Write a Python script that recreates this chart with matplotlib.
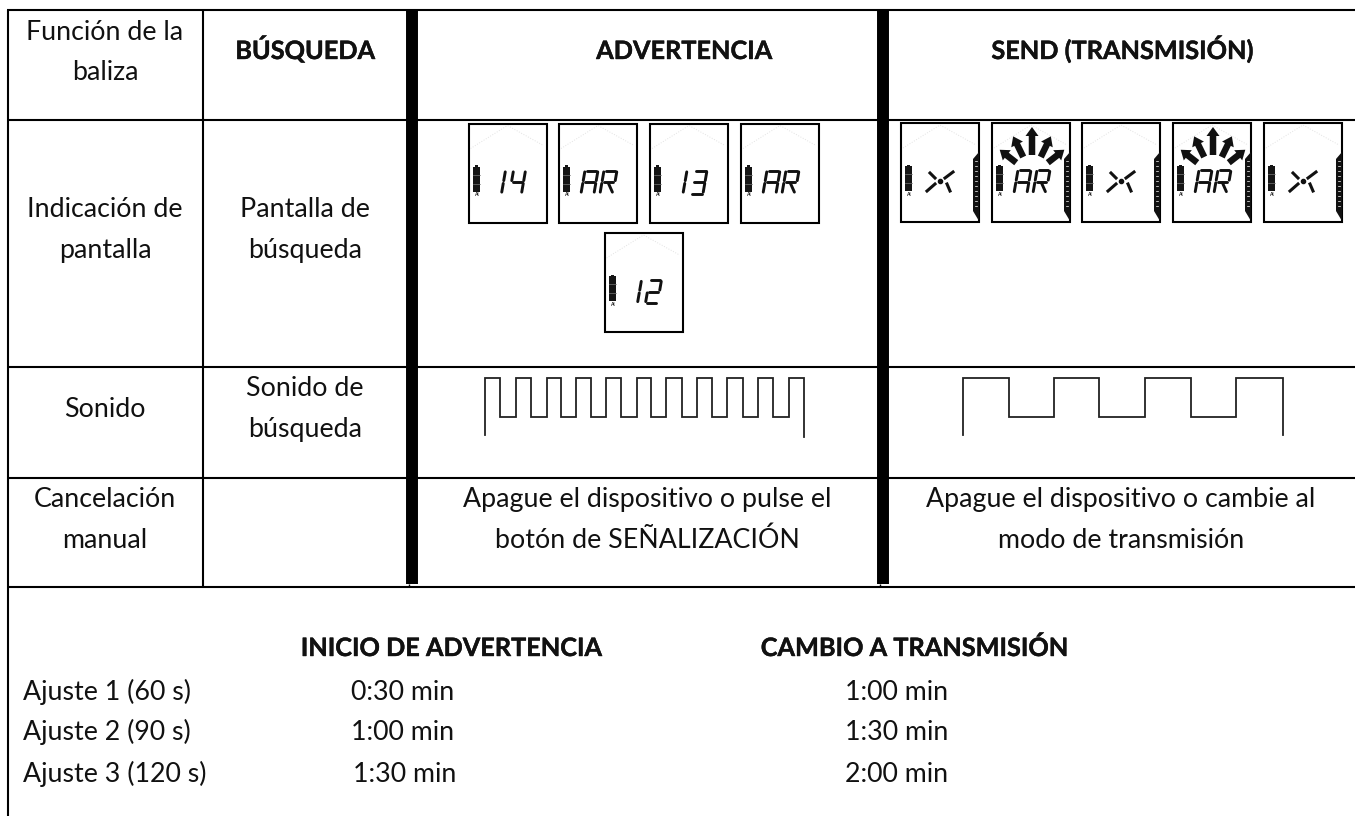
import matplotlib
matplotlib.use('Agg')
import matplotlib.pyplot as plt
import matplotlib.patheffects as pe
from matplotlib.patches import Rectangle, Polygon, FancyArrow
import numpy as np

plt.rcParams['font.family'] = ['Lato', 'DejaVu Sans']

# grid of the table, pixels
thin_v = [7.5, 203]
thick_v = [411.5, 883]
row_y = [10, 120, 367, 478, 587]

# header and cell texts: (text, x centre, baseline y, bold)
cells = [
    ('Función de la', 105, 40, False), ('baliza', 105, 80, False),
    ('BÚSQUEDA', 305, 59, True), ('ADVERTENCIA', 684, 59, True),
    ('SEND (TRANSMISIÓN)', 1122, 59, True),
    ('Indicación de', 105, 217, False), ('pantalla', 105, 258, False),
    ('Pantalla de', 305, 217, False), ('búsqueda', 305, 258, False),
    ('Sonido', 105, 417, False), ('Sonido de', 305, 396, False), ('búsqueda', 305, 437, False),
    ('Cancelación', 105, 507, False), ('manual', 105, 548, False),
    ('Apague el dispositivo o pulse el', 647, 507, False), ('botón de SEÑALIZACIÓN', 647, 548, False),
    ('Apague el dispositivo o cambie al', 1121, 507, False), ('modo de transmisión', 1121, 548, False),
    ('INICIO DE ADVERTENCIA', 451, 656, True), ('CAMBIO A TRANSMISIÓN', 914, 656, True),
]

# settings block
settings = ['Ajuste 1 (60 s)', 'Ajuste 2 (90 s)', 'Ajuste 3 (120 s)']
start_warn = ['0:30 min', '1:00 min', '1:30 min']
start_warn_x = [403, 403, 405]
switch_send = ['1:00 min', '1:30 min', '2:00 min']
settings_y = [700, 740, 782]

# display boxes
warn_labels = ['14', 'AR', '13', 'AR', '12']
warn_x = [468.5, 559, 650, 741, 604.5]
warn_y = [123.5, 123.5, 123.5, 123.5, 233]
send_labels = ['X', 'AR', 'X', 'AR', 'X']
send_x = [901, 992, 1082, 1173, 1264]
box_w, box_h = 78, 99

# square waves, switching points
wave_warn_x = [485, 500, 516, 531, 547, 561, 576, 591, 606, 621, 637, 651, 666, 682,
               697, 712, 727, 743, 758, 773, 789, 804]
wave_warn_end = [435, 437]
wave_send_x = [963, 1009, 1054, 1099, 1145, 1191, 1236, 1283]
wave_send_end = [435, 435]
wave_hi, wave_lo = 378, 417

# seven segment pieces
segs = {'1': 'bc', '2': 'abged', '3': 'abgcd', '4': 'fgbc', 'A': 'abcefg', 'R': 'abefgr'}
seg_pts = {'a': ((0, 0), (1, 0)), 'b': ((1, 0), (1, .5)), 'c': ((1, .5), (1, 1)), 'd': ((0, 1), (1, 1)),
           'e': ((0, .5), (0, 1)), 'f': ((0, 0), (0, .5)), 'g': ((0, .5), (1, .5)), 'r': ((.45, .5), (1, 1))}

arrow_angles = [-52, -26, 0, 26, 52]
arrow_tips = [39, 41, 46, 41, 39]

fig = plt.figure(figsize=(13.55, 8.16), dpi=100)
ax = fig.add_axes([0, 0, 1, 1])
ax.set_xlim(0, 1355)
ax.set_ylim(816, 0)
ax.axis('off')

lw = 1.5
for y in row_y:
    ax.plot([thin_v[0] - 1, 1355], [y, y], color='black', lw=lw, solid_capstyle='butt')
ax.plot([thin_v[0]] * 2, [row_y[0], 816], color='black', lw=lw, solid_capstyle='butt')
ax.plot([thin_v[1]] * 2, [row_y[0], row_y[-1]], color='black', lw=lw, solid_capstyle='butt')
for x in thick_v:
    ax.plot([x, x], [row_y[0], 584], color='black', lw=8.6, solid_capstyle='butt')
    ax.plot([x - 3, x - 3], [584, row_y[-1]], color='black', lw=1, solid_capstyle='butt')

fs = 19.3
fs_bold = 18.2
for s, x, y, bold in cells:
    t = ax.text(x, y, s, ha='center', va='baseline', fontsize=fs_bold if bold else fs, color='#111111',
                fontweight='bold' if bold else 'normal')
    if bold:
        # Lato bold is a bit lighter than the original face
        t.set_path_effects([pe.withStroke(linewidth=0.3, foreground='#111111')])
for s, y in zip(settings, settings_y):
    ax.text(23, y, s, ha='left', va='baseline', fontsize=fs, color='#111111')
for s, x, y in zip(start_warn, start_warn_x, settings_y):
    ax.text(x, y, s, ha='center', va='baseline', fontsize=fs, color='#111111')
for s, y in zip(switch_send, settings_y):
    ax.text(897, y, s, ha='center', va='baseline', fontsize=fs, color='#111111')


def seven(x0, y0, ch, w=13, h=23, slant=4):
    for k in segs[ch]:
        (a, b), (c, d) = seg_pts[k]
        xs = [x0 + a * w + slant * (1 - b), x0 + c * w + slant * (1 - d)]
        ys = [y0 + b * h, y0 + d * h]
        # small gap at the ends of each segment
        xs2 = [xs[0] + .12 * (xs[1] - xs[0]), xs[1] - .12 * (xs[1] - xs[0])]
        ys2 = [ys[0] + .12 * (ys[1] - ys[0]), ys[1] - .12 * (ys[1] - ys[0])]
        ax.plot(xs2, ys2, color='#111111', lw=2.1, solid_capstyle='round')


def screen(x, y, label, send=False):
    ax.add_patch(Rectangle((x, y), box_w, box_h, fill=False, ec='black', lw=1.5))
    ax.plot([x + 2, x + 39, x + 75], [y + 25, y + 2, y + 22], color='#e2e2e2', lw=.7, ls=':')
    # battery
    ax.add_patch(Rectangle((x + 4, y + 43), 7, 25, fc='#151515', ec='none'))
    ax.add_patch(Rectangle((x + 6, y + 41.5), 3, 2, fc='#151515', ec='none'))
    for t in [51, 60]:
        ax.plot([x + 4, x + 11], [y + t, y + t], color='#777777', lw=.5)
    ax.text(x + 7.5, y + 71, 'Al', fontsize=3.5, ha='center', va='center', color='#222222', fontweight='bold')
    if send:
        ax.add_patch(Polygon([(x + box_w, y + 29), (x + box_w, y + 98), (x + 72, y + 88), (x + 72, y + 36)],
                             fc='#111111', ec='none'))
        for t in np.arange(38, 86, 5):
            ax.plot([x + 74, x + 76], [y + t, y + t], color='white', lw=.5)
    if label == 'X':
        cx, cy = x + 39, y + 58
        ax.plot([cx], [cy], 'o', color='#111111', ms=3)
        ax.plot([cx + 5, cx + 13], [cy - 3, cy - 9], color='#111111', lw=2.2)
        ax.plot([cx + 7, cx + 10], [cy + 3, cy + 10], color='#111111', lw=2.2)
        ax.plot([cx - 5, cx - 13], [cy + 3, cy + 10], color='#111111', lw=2.2)
        ax.plot([cx - 5, cx - 10], [cy - 3, cy - 8], color='#111111', lw=2.2)
        return
    if label == 'AR':
        seven(x + 22, y + 47, 'A', w=13)
        seven(x + 41, y + 47, 'R', w=13)
    else:
        seven(x + 20, y + 47, label[0], w=13)
        seven(x + 41, y + 47, label[1], w=12)
    if send:
        cx, cy = x + 40, y + 52
        for ang, tip in zip(arrow_angles, arrow_tips):
            a = np.radians(ang)
            dx, dy = np.sin(a), -np.cos(a)
            ax.add_patch(FancyArrow(cx + 20 * dx, cy + 20 * dy, (tip - 18) * dx, (tip - 18) * dy, width=6.5,
                                    head_width=13, head_length=9, length_includes_head=True,
                                    fc='#111111', ec='none'))


for s, x, y in zip(warn_labels, warn_x, warn_y):
    screen(x, y, s)
for s, x in zip(send_labels, send_x):
    screen(x, 123, s, send=True)


def wave(xs, ends):
    # starts on the high level, ends dropping down at both outer edges
    px = [xs[0]]
    py = [ends[0]]
    level = wave_hi
    for x in xs:
        px += [x, x]
        py += [py[-1], level]
        level = wave_lo if level == wave_hi else wave_hi
    px.append(xs[-1])
    py.append(ends[1])
    ax.plot(px, py, color='#222222', lw=1.3, solid_joinstyle='miter')


wave(wave_warn_x, wave_warn_end)
wave(wave_send_x, wave_send_end)

fig.savefig('out.png', dpi=100)
